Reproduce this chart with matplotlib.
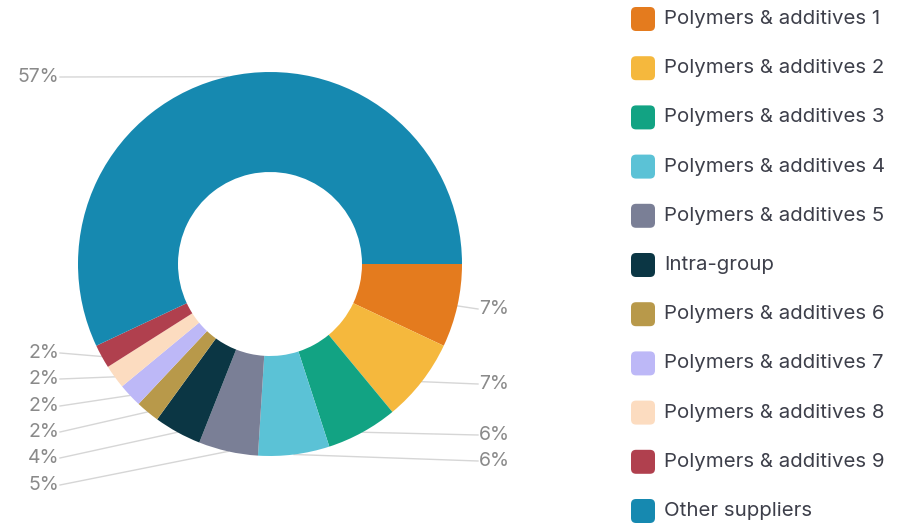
import numpy as np
import matplotlib.pyplot as plt
from matplotlib.patches import FancyBboxPatch

plt.rcParams['font.family'] = ['Inter', 'DejaVu Sans']

# fornecedores e participação (%)
labels = ["Polymers & additives 1", "Polymers & additives 2", "Polymers & additives 3",
          "Polymers & additives 4", "Polymers & additives 5", "Intra-group",
          "Polymers & additives 6", "Polymers & additives 7", "Polymers & additives 8",
          "Polymers & additives 9", "Other suppliers"]
shares = [7, 7, 6, 6, 5, 4, 2, 2, 2, 2, 57]
colors = ["#E47B1E", "#F5B83D", "#12A383", "#5BC2D6", "#7A7F96", "#0B3644",
          "#B8994A", "#BDB8F7", "#FCDCC0", "#B0404E", "#1689B0"]

W, H = 905, 523
fig = plt.figure(figsize=(W / 100, H / 100), dpi=100)
ax = fig.add_axes([0, 0, 1, 1])

cx, cy = 270, H - 264
r_out, r_in = 192, 92

wedges, _ = ax.pie(shares, colors=colors, startangle=0, counterclock=False,
                   radius=r_out, center=(cx, cy),
                   wedgeprops=dict(width=r_out - r_in, linewidth=0))
ax.set_xlim(0, W)
ax.set_ylim(0, H)
ax.set_aspect('equal')
ax.axis('off')

# posições dos rótulos (y em pixels a partir do topo) e lado
label_y = [309, 384, 435, 461, 485, 458, 432, 406, 379, 353, 77]
right_side = [True, True, True, True, False, False, False, False, False, False, False]

for w, val, ly, right in zip(wedges, shares, label_y, right_side):
    ang = np.deg2rad((w.theta1 + w.theta2) / 2)
    x0 = cx + r_out * np.cos(ang)
    y0 = cy + r_out * np.sin(ang)
    y1 = H - ly
    if right:
        ax.plot([x0, 478], [y0, y1], color="#d6d6d6", lw=1, zorder=0)
        ax.text(479, y1, f"{val}%", ha="left", va="center", fontsize=14, color="#8a8a8a")
    else:
        ax.plot([x0, 60], [y0, y1], color="#d6d6d6", lw=1, zorder=0)
        ax.text(59, y1, f"{val}%", ha="right", va="center", fontsize=14, color="#8a8a8a")

# legenda à direita
for i, (lab, c) in enumerate(zip(labels, colors)):
    y = H - (19 + i * 49.2)
    box = FancyBboxPatch((631, y - 12), 24, 24, boxstyle="round,pad=0,rounding_size=5",
                         facecolor=c, edgecolor="none")
    ax.add_patch(box)
    ax.text(664, y, lab, ha="left", va="center", fontsize=14.7, color="#3d3f4a")

fig.savefig("out.png", dpi=100)
